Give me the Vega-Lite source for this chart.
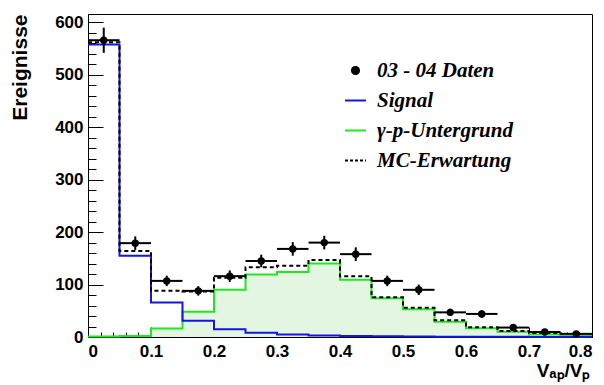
{
  "$schema": "https://vega.github.io/schema/vega-lite/v6.json",
  "width": 504,
  "height": 323,
  "autosize": {"type": "none"},
  "padding": {"left": 88, "top": 14, "right": 12, "bottom": 48},
  "background": "white",
  "config": {
    "view": {"stroke": "black", "strokeWidth": 1},
    "axis": {
      "labelFont": "Liberation Sans", "labelFontWeight": "bold", "labelFontSize": 17, "labelColor": "black",
      "titleFont": "Liberation Sans", "titleFontWeight": "bold", "titleFontSize": 20, "titleColor": "black",
      "domainColor": "black", "tickColor": "black", "grid": false
    }
  },
  "datasets": {
    "bins": [
      {"x0": 0, "x1": 0.05, "xc": 0.025, "d": 566, "lo": 542, "hi": 590},
      {"x0": 0.05, "x1": 0.1, "xc": 0.075, "d": 179, "lo": 166, "hi": 192},
      {"x0": 0.1, "x1": 0.15, "xc": 0.125, "d": 107, "lo": 97, "hi": 117},
      {"x0": 0.15, "x1": 0.2, "xc": 0.175, "d": 88, "lo": 79, "hi": 97},
      {"x0": 0.2, "x1": 0.25, "xc": 0.225, "d": 116, "lo": 105, "hi": 127},
      {"x0": 0.25, "x1": 0.3, "xc": 0.275, "d": 145, "lo": 133, "hi": 157},
      {"x0": 0.3, "x1": 0.35, "xc": 0.325, "d": 168, "lo": 155, "hi": 181},
      {"x0": 0.35, "x1": 0.4, "xc": 0.375, "d": 180, "lo": 167, "hi": 193},
      {"x0": 0.4, "x1": 0.45, "xc": 0.425, "d": 158, "lo": 145, "hi": 171},
      {"x0": 0.45, "x1": 0.5, "xc": 0.475, "d": 107, "lo": 97, "hi": 117},
      {"x0": 0.5, "x1": 0.55, "xc": 0.525, "d": 90, "lo": 80, "hi": 100},
      {"x0": 0.55, "x1": 0.6, "xc": 0.575, "d": 47, "lo": 40, "hi": 54},
      {"x0": 0.6, "x1": 0.65, "xc": 0.625, "d": 44, "lo": 37, "hi": 51},
      {"x0": 0.65, "x1": 0.7, "xc": 0.675, "d": 18, "lo": 14, "hi": 22},
      {"x0": 0.7, "x1": 0.75, "xc": 0.725, "d": 9.5, "lo": 6.5, "hi": 12.5},
      {"x0": 0.75, "x1": 0.8, "xc": 0.775, "d": 6, "lo": 3.5, "hi": 8.5}
    ],
    "hist": [
      {"edge": 0, "sig": 558, "gam": 1, "mc": 562},
      {"edge": 0.05, "sig": 155, "gam": 2, "mc": 164},
      {"edge": 0.1, "sig": 66, "gam": 16, "mc": 88},
      {"edge": 0.15, "sig": 31, "gam": 48, "mc": 87},
      {"edge": 0.2, "sig": 15, "gam": 90, "mc": 113},
      {"edge": 0.25, "sig": 8, "gam": 119, "mc": 133},
      {"edge": 0.3, "sig": 5, "gam": 124, "mc": 136},
      {"edge": 0.35, "sig": 3, "gam": 140, "mc": 147},
      {"edge": 0.4, "sig": 2, "gam": 109, "mc": 116},
      {"edge": 0.45, "sig": 1.5, "gam": 74, "mc": 76},
      {"edge": 0.5, "sig": 1, "gam": 53, "mc": 56},
      {"edge": 0.55, "sig": 0.5, "gam": 29, "mc": 32},
      {"edge": 0.6, "sig": 0.5, "gam": 16.5, "mc": 18.5},
      {"edge": 0.65, "sig": 0.3, "gam": 10, "mc": 11.5},
      {"edge": 0.7, "sig": 0.2, "gam": 5, "mc": 7.5},
      {"edge": 0.75, "sig": 0.2, "gam": 4, "mc": 5.7},
      {"edge": 0.8, "sig": 0.2, "gam": 4, "mc": 5.7}
    ]
  },
  "resolve": {"axis": {"x": "independent", "y": "independent"}},
  "layer": [
    {
      "data": {"name": "hist"},
      "mark": {"type": "area", "interpolate": "step-after", "color": "#e2f6e2"},
      "encoding": {
        "x": {"field": "edge", "type": "quantitative", "scale": {"domain": [0, 0.8], "nice": false},
          "axis": {"orient": "bottom", "values": [0,0.02,0.04,0.06,0.08,0.1,0.12,0.14,0.16,0.18,0.2,0.22,0.24,0.26,0.28,0.3,0.32,0.34,0.36,0.38,0.4,0.42,0.44,0.46,0.48,0.5,0.52,0.54,0.56,0.58,0.6,0.62,0.64,0.66,0.68,0.7,0.72,0.74,0.76,0.78,0.8],
            "tickSize": -5, "labels": false, "domain": false, "title": null}},
        "y": {"field": "gam", "type": "quantitative", "scale": {"domain": [0, 616], "nice": false},
          "axis": {"orient": "left", "values": [0,20,40,60,80,100,120,140,160,180,200,220,240,260,280,300,320,340,360,380,400,420,440,460,480,500,520,540,560,580,600],
            "tickSize": -8, "labels": false, "domain": false, "title": null}}
      }
    },
    {
      "data": {"name": "hist"},
      "mark": {"type": "line", "interpolate": "step-after", "strokeWidth": 2},
      "encoding": {
        "x": {"field": "edge", "type": "quantitative",
          "axis": {"orient": "bottom", "values": [0,0.1,0.2,0.3,0.4,0.5,0.6,0.7,0.8], "format": "~g",
            "tickSize": -10, "labelPadding": 16, "title": "Vₐₚ/Vₚ", "titleAnchor": "end", "titleAlign": "right", "titleBaseline": "alphabetic", "titleX": 502, "titleY": 39, "titleFontSize": 19}},
        "y": {"field": "gam", "type": "quantitative",
          "axis": {"orient": "left", "values": [0,100,200,300,400,500,600],
            "tickSize": -15, "labelPadding": 20, "title": "Ereignisse", "titleFontSize": 21, "titleAngle": -90, "titleAlign": "right", "titleBaseline": "middle", "titleX": -68, "titleY": 0}},
        "color": {"datum": "γ-p-Untergrund", "type": "nominal",
          "scale": {"domain": ["03 - 04 Daten", "Signal", "γ-p-Untergrund", "MC-Erwartung"], "range": ["black", "#1414e6", "#1ee81e", "black"]},
          "legend": {"orient": "none", "legendX": 256, "legendY": 45, "title": null,
            "labelFont": "Liberation Serif", "labelFontSize": 21, "labelFontStyle": "italic", "labelFontWeight": "bold", "labelColor": "black",
            "symbolSize": 441, "symbolStrokeWidth": 2, "symbolType": "stroke", "labelOffset": 10, "rowPadding": 8,
            "encode": {"symbols": {"update": {
              "shape": {"signal": "datum.value === '03 - 04 Daten' ? 'circle' : 'stroke'"},
              "size": {"signal": "datum.value === '03 - 04 Daten' ? 50 : 441"},
              "fill": {"signal": "datum.value === '03 - 04 Daten' ? 'black' : 'transparent'"},
              "stroke": {"signal": "datum.value === '03 - 04 Daten' ? 'transparent' : scale('color', datum.value)"},
              "strokeDash": {"signal": "datum.value === 'MC-Erwartung' ? [3, 2] : [1, 0]"},
              "strokeWidth": {"value": 2}
            }}}}}
      }
    },
    {
      "data": {"name": "hist"},
      "mark": {"type": "line", "interpolate": "step-after", "strokeWidth": 2},
      "encoding": {
        "x": {"field": "edge", "type": "quantitative", "axis": null},
        "y": {"field": "sig", "type": "quantitative", "axis": null},
        "color": {"datum": "Signal", "type": "nominal"}
      }
    },
    {
      "data": {"name": "hist"},
      "mark": {"type": "line", "interpolate": "step-after", "strokeWidth": 2, "strokeDash": [4, 3]},
      "encoding": {
        "x": {"field": "edge", "type": "quantitative", "axis": null},
        "y": {"field": "mc", "type": "quantitative", "axis": null},
        "color": {"datum": "MC-Erwartung", "type": "nominal"}
      }
    },
    {
      "data": {"name": "bins"},
      "mark": {"type": "rule", "strokeWidth": 2},
      "encoding": {
        "x": {"field": "x0", "type": "quantitative", "axis": null},
        "x2": {"field": "x1"},
        "y": {"field": "d", "type": "quantitative", "axis": null},
        "color": {"datum": "03 - 04 Daten", "type": "nominal"}
      }
    },
    {
      "data": {"name": "bins"},
      "mark": {"type": "rule", "strokeWidth": 2},
      "encoding": {
        "x": {"field": "xc", "type": "quantitative", "axis": null},
        "y": {"field": "lo", "type": "quantitative", "axis": null},
        "y2": {"field": "hi"},
        "color": {"datum": "03 - 04 Daten", "type": "nominal"}
      }
    },
    {
      "data": {"name": "bins"},
      "mark": {"type": "point", "filled": true, "size": 55, "opacity": 1, "shape": "circle"},
      "encoding": {
        "x": {"field": "xc", "type": "quantitative", "axis": null},
        "y": {"field": "d", "type": "quantitative", "axis": null},
        "color": {"datum": "03 - 04 Daten", "type": "nominal"}
      }
    }
  ]
}
